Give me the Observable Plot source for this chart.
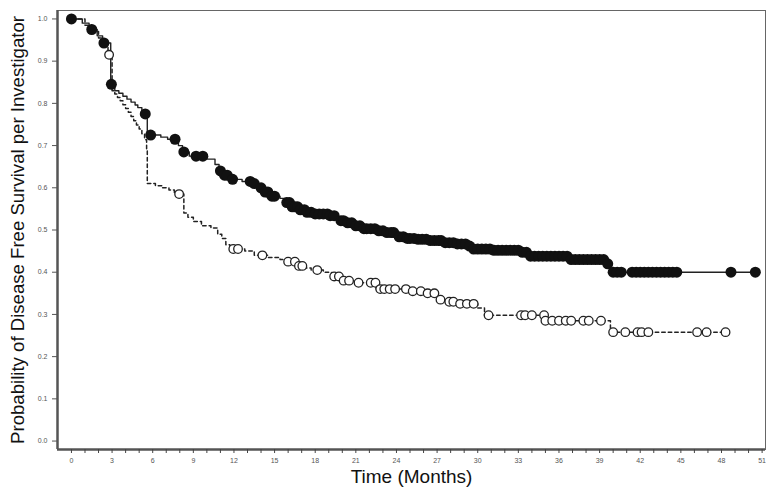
<!DOCTYPE html>
<html>
<head>
<meta charset="utf-8">
<script src="https://cdn.jsdelivr.net/npm/d3@7"></script>
<script src="https://cdn.jsdelivr.net/npm/@observablehq/plot@0.6"></script>
<style>
  html, body { margin: 0; padding: 0; background: #fff; }
  #chart svg { display: block; }
</style>
</head>
<body>
<div id="chart"></div>
<script>
// ---- Arm A (solid line, filled censor marks) ----
const aTime = [0, 0.8, 1.3, 1.9, 2.3, 2.9, 3.2, 3.5, 3.8, 4.1, 4.4, 4.7, 4.9, 5.2, 5.6, 6.6, 7.1, 7.9, 8.2, 8.7, 10.0, 10.6, 10.9, 11.2, 11.6, 12.6, 13.3, 13.8, 14.3, 14.8, 15.4, 15.8, 16.3, 16.8, 17.3, 18.0, 19.0, 19.7, 20.4, 21.0, 21.6, 22.5, 23.1, 23.9, 24.6, 25.6, 26.5, 27.6, 28.5, 29.2, 29.6, 31.2, 33.2, 33.7, 36.8, 39.4, 39.8];
const aSurv = [1.0, 0.99, 0.975, 0.96, 0.943, 0.845, 0.83, 0.824, 0.817, 0.81, 0.803, 0.796, 0.79, 0.775, 0.725, 0.72, 0.715, 0.70, 0.685, 0.675, 0.668, 0.655, 0.64, 0.63, 0.62, 0.615, 0.61, 0.60, 0.59, 0.58, 0.575, 0.565, 0.555, 0.548, 0.542, 0.538, 0.534, 0.522, 0.517, 0.51, 0.503, 0.498, 0.494, 0.484, 0.48, 0.478, 0.475, 0.47, 0.467, 0.462, 0.455, 0.452, 0.447, 0.438, 0.43, 0.42, 0.40];
const aCensor = [0.0, 1.5, 2.4, 2.95, 5.45, 5.85, 7.65, 8.3, 9.2, 9.7, 11.0, 11.3, 11.5, 11.9, 13.2, 13.5, 14.0, 14.3, 14.5, 14.8, 15.0, 15.9, 16.1, 16.3, 16.5, 16.7, 16.9, 17.2, 17.4, 17.7, 18.0, 18.3, 18.6, 18.9, 19.1, 19.4, 19.9, 20.1, 20.4, 20.7, 21.0, 21.3, 21.6, 21.8, 22.1, 22.4, 22.7, 23.0, 23.3, 23.6, 23.8, 24.2, 24.5, 24.8, 25.0, 25.3, 25.6, 25.9, 26.2, 26.5, 26.8, 27.1, 27.3, 27.6, 27.9, 28.2, 28.5, 28.8, 29.1, 29.4, 29.7, 30.0, 30.3, 30.6, 30.9, 31.2, 31.5, 31.8, 32.1, 32.4, 32.7, 33.0, 33.3, 33.6, 33.9, 34.2, 34.5, 34.8, 35.1, 35.4, 35.7, 36.0, 36.3, 36.6, 36.9, 37.2, 37.5, 37.8, 38.1, 38.4, 38.7, 39.0, 39.3, 39.6, 40.0, 40.3, 40.6, 41.4, 41.7, 42.0, 42.3, 42.6, 42.9, 43.2, 43.5, 43.8, 44.1, 44.4, 44.7, 48.7, 50.5];

// ---- Arm B (dashed line, open censor marks) ----
const bTime = [0, 1.0, 1.5, 2.0, 2.4, 2.7, 3.0, 3.2, 3.4, 3.6, 3.8, 4.0, 4.2, 4.4, 4.6, 4.8, 5.0, 5.2, 5.4, 5.55, 5.6, 6.2, 6.7, 7.2, 7.6, 8.3, 8.6, 9.0, 9.6, 10.3, 10.8, 11.1, 11.4, 11.7, 12.8, 13.5, 14.5, 15.4, 16.0, 16.8, 17.1, 17.7, 18.6, 19.2, 20.0, 21.0, 22.5, 24.8, 26.0, 27.1, 27.8, 28.4, 30.0, 30.5, 35.0, 39.8];
const bSurv = [1.0, 0.985, 0.97, 0.955, 0.94, 0.915, 0.83, 0.822, 0.814, 0.806, 0.797, 0.788, 0.779, 0.769, 0.759, 0.749, 0.739, 0.728, 0.714, 0.69, 0.61, 0.605, 0.60, 0.595, 0.585, 0.54, 0.53, 0.52, 0.51, 0.505, 0.49, 0.48, 0.465, 0.455, 0.45, 0.44, 0.435, 0.43, 0.425, 0.415, 0.41, 0.405, 0.40, 0.39, 0.38, 0.375, 0.36, 0.355, 0.35, 0.335, 0.33, 0.325, 0.315, 0.298, 0.285, 0.258];
const bCensor = [2.78, 7.95, 11.95, 12.3, 14.1, 16.0, 16.5, 16.8, 17.05, 18.15, 19.4, 19.75, 20.1, 20.5, 21.2, 22.1, 22.45, 22.8, 23.1, 23.5, 23.9, 24.7, 25.2, 25.8, 26.3, 26.8, 27.25, 27.9, 28.2, 28.7, 29.2, 29.7, 30.8, 33.2, 33.5, 34.0, 34.9, 35.0, 35.5, 36.0, 36.5, 36.9, 37.8, 38.2, 39.1, 40.0, 40.9, 41.8, 42.1, 42.6, 46.2, 46.9, 48.3];

// ---- Axes ----
const xTicksMajor = [0, 3, 6, 9, 12, 15, 18, 21, 24, 27, 30, 33, 36, 39, 42, 45, 48, 51];
const xTicksMinor = [0,1,2,3,4,5,6,7,8,9,10,11,12,13,14,15,16,17,18,19,20,21,22,23,24,25,26,27,28,29,30,31,32,33,34,35,36,37,38,39,40,41,42,43,44,45,46,47,48,49,50,51];
const yTicks = [0, 0.1, 0.2, 0.3, 0.4, 0.5, 0.6, 0.7, 0.8, 0.9, 1.0];
const xLabel = "Time (Months)";
const yLabel = "Probability of Disease Free Survival per Investigator";
const xDomain = [-1.03, 51.25];
const yDomain = [-0.02, 1.02];

function survAt(times, surv, t) {
  let s = surv[0];
  for (let i = 0; i < times.length; i++) if (times[i] <= t) s = surv[i];
  return s;
}
function curveData(times, surv, censor) {
  const pts = times.map((t, i) => ({t, s: surv[i]}));
  const last = censor[censor.length - 1];
  pts.push({t: last, s: survAt(times, surv, last)});
  return pts;
}
const aLine = curveData(aTime, aSurv, aCensor);
const bLine = curveData(bTime, bSurv, bCensor);
const aDots = aCensor.map(t => ({t, s: survAt(aTime, aSurv, t)}));
const bDots = bCensor.map(t => ({t, s: survAt(bTime, bSurv, t)}));

const chart = Plot.plot({
  width: 766,
  height: 494,
  marginLeft: 57,
  marginRight: 1,
  marginTop: 10,
  marginBottom: 45,
  style: {fontFamily: "'Liberation Sans', Arial, sans-serif", background: "#fff"},
  x: {domain: xDomain},
  y: {domain: yDomain},
  marks: [
    Plot.frame({stroke: "#666", strokeWidth: 1}),
    Plot.ruleX([xDomain[0]], {stroke: "#555", strokeWidth: 2.5}),
    Plot.ruleY([yDomain[0]], {stroke: "#555", strokeWidth: 2.5}),
    Plot.axisY({ticks: yTicks, tickFormat: d3.format(".1f"), tickSize: 5, tickPadding: 5, fontSize: 7, color: "#555", label: null}),
    Plot.axisX({ticks: xTicksMinor, tickFormat: () => "", tickSize: 4, color: "#444", label: null}),
    Plot.axisX({ticks: xTicksMajor, tickSize: 0, tickPadding: 9, fontSize: 7, color: "#555", label: null}),
    Plot.line(bLine, {x: "t", y: "s", curve: "step-after", stroke: "#222", strokeWidth: 1.5, strokeDasharray: "3.5,3"}),
    Plot.line(aLine, {x: "t", y: "s", curve: "step-after", stroke: "#222", strokeWidth: 1.4}),
    Plot.dot(bDots, {x: "t", y: "s", r: 4.3, fill: "#fff", stroke: "#222", strokeWidth: 1.3}),
    Plot.dot(aDots, {x: "t", y: "s", r: 5.5, fill: "#111", stroke: "none"}),
    Plot.text([xLabel], {frameAnchor: "bottom", textAnchor: "middle", dy: 33, fontSize: 19, fill: "#111"}),
    Plot.text([yLabel], {frameAnchor: "left", textAnchor: "middle", dx: -39, rotate: -90, fontSize: 18.6, fill: "#111"})
  ]
});
document.getElementById("chart").appendChild(chart);
</script>
</body>
</html>
